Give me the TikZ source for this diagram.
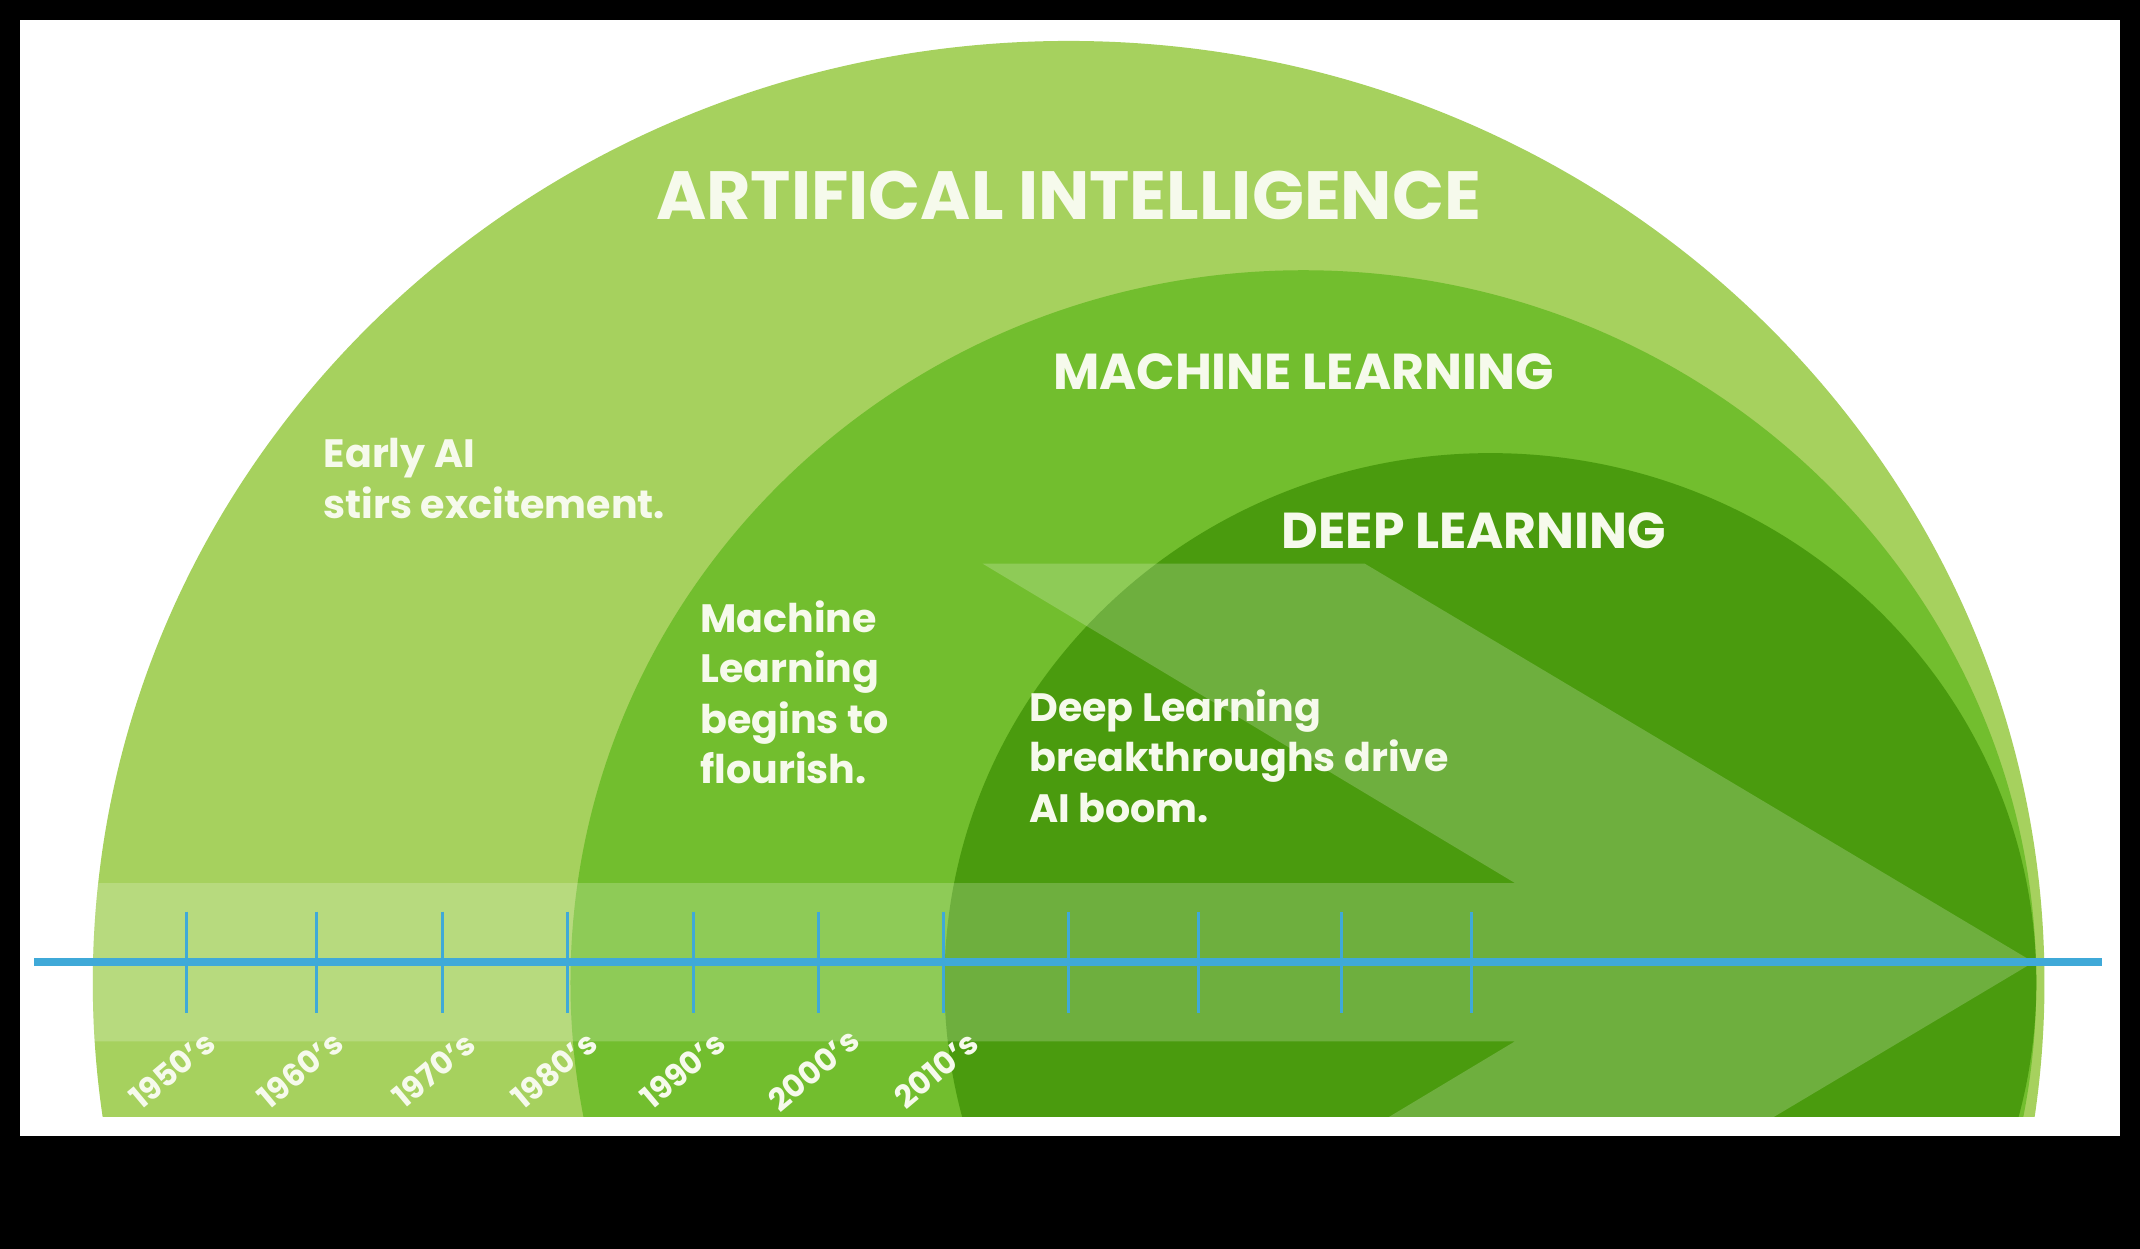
\documentclass[tikz,border=0pt]{standalone}
\usepackage{fontspec}
\setmainfont{Poppins}
\definecolor{aig}{HTML}{A6D15E}
\definecolor{mlg}{HTML}{72BE2E}
\definecolor{dlg}{HTML}{4A9B0E}
\definecolor{tl}{HTML}{3FA9D8}
\definecolor{tx}{HTML}{F6FAEC}
\begin{document}
\begin{tikzpicture}[x=1pt,y=-1pt,
  title/.style={text=tx,font=\fontsize{#1}{#1}\selectfont\bfseries,inner sep=0pt},
  body/.style={text=tx,font=\fontsize{29}{37}\selectfont\bfseries,align=left,anchor=north west,inner sep=0pt},
  year/.style={text=tx,font=\fontsize{23}{23}\selectfont\bfseries,rotate=40,inner sep=0pt},
  tick/.style={tl,line width=2.2pt}]
\fill[black] (0,0) rectangle (1568,915);
\useasboundingbox (0,0) rectangle (1568,915);
\fill[white] (15,15) rectangle (1553,832);
\begin{scope}
  \clip (15,15) rectangle (1553,818);
  \fill[aig] (783,720) ellipse [x radius=715, y radius=690];
  \fill[mlg] (955,720) ellipse [x radius=537, y radius=522];
  \fill[dlg] (1092,720) ellipse [x radius=400, y radius=388];
  \clip (783,720) ellipse [x radius=715, y radius=690];
  \fill[white,opacity=0.2] (40,647)--(1110,647)--(720,413)--(1000,413)--(1490,705)--(1000,997)--(720,997)--(1110,763)--(40,763)--cycle;
\end{scope}
\node[title=50] (ai) at (783,143) {ARTIFICAL INTELLIGENCE};
\node[title=37] (ml) at (955,272) {MACHINE LEARNING};
\node[title=37] (dl) at (1080,389) {DEEP LEARNING};
\node[body] (t1) at (237,321) {Early AI\\stirs excitement.};
\node[body] (t2) at (513,440) {Machine\\Learning\\begins to\\flourish.};
\node[body] (t3) at (754,505) {Deep Learning\\breakthroughs drive\\AI boom.};
\coordinate (la) at (25,705);
\coordinate (lb) at (1540,705);
\draw[tl,line width=6pt] (la) -- (lb);
\foreach \x in {137,232,324,416,508,600,691,783,878,983,1078}
  \draw[tick] (\x,668) -- (\x,742);
\foreach \x/\y in {126/1950,220/1960,318/1970,406/1980,500/1990,596/2000,686/2010}
  \node[year] (y\y) at (\x,784) {\y's};
\end{tikzpicture}
\end{document}
